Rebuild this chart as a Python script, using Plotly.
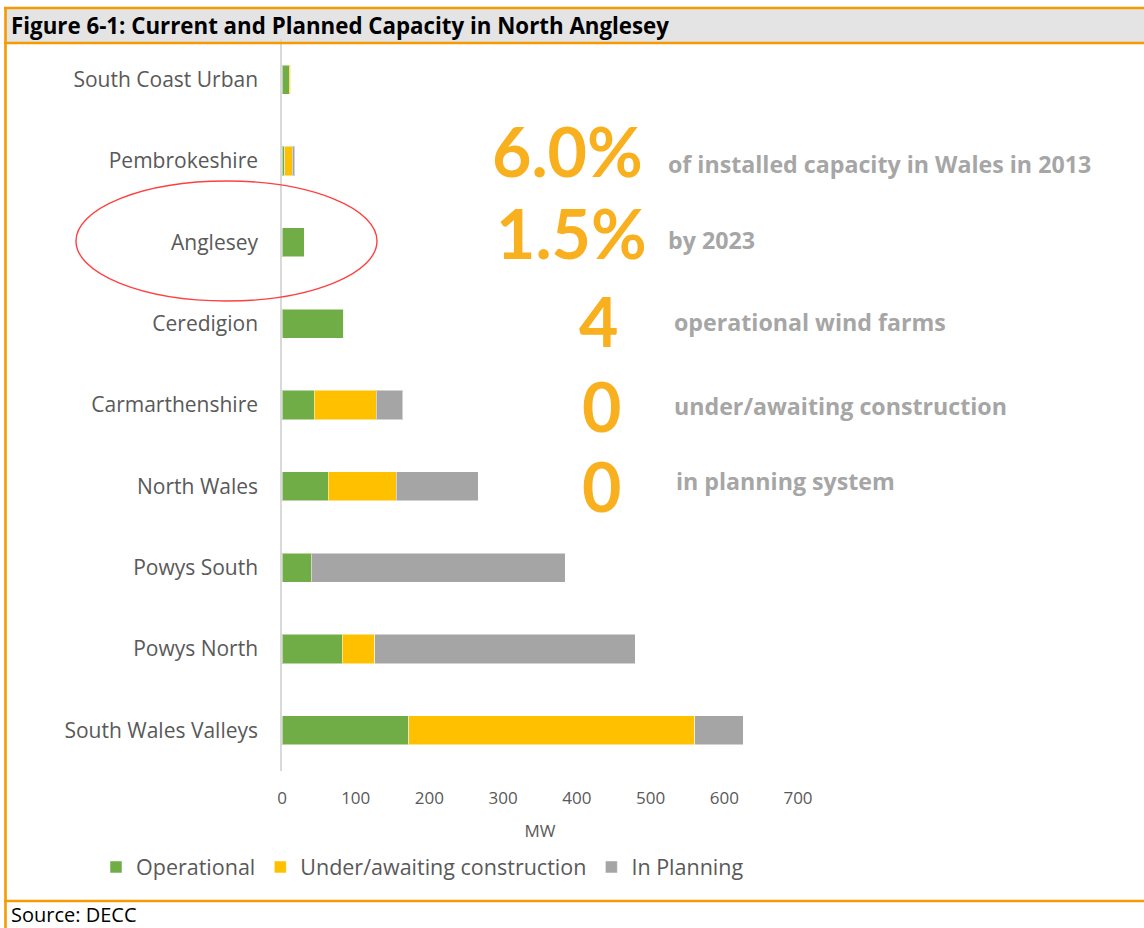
import plotly.graph_objects as go

# ---- data (MW), top-to-bottom order as shown ----
categories = ["South Coast Urban", "Pembrokeshire", "Anglesey", "Ceredigion",
              "Carmarthenshire", "North Wales", "Powys South", "Powys North",
              "South Wales Valleys"]
operational = [10, 4, 30, 84, 44, 63, 40, 82, 172]
under_construction = [2, 10, 0, 0, 84, 92, 0, 44, 388]
in_planning = [0, 3, 0, 0, 36, 111, 344, 353, 66]
x_ticks = [0, 100, 200, 300, 400, 500, 600, 700]

W, H = 1144, 928
L, R, T, B = 282, 798, 39, 771  # plot area pixel box


def px(x):
    return (x - L) / (R - L)


def py(y):
    return (B - y) / (B - T)


GREEN, YELLOW, GREY = "#70AD47", "#FFC000", "#A5A5A5"
ORANGE = "#F59A00"
BIG = "#F9B01F"
SOFT = "#A6A6A6"
TXT = "#595959"
FONT = "'Open Sans', sans-serif"
BIGFONT = "Lato, 'Open Sans', sans-serif"

fig = go.Figure()
for name, vals, col in [("Operational", operational, GREEN),
                        ("Under/awaiting construction", under_construction, YELLOW),
                        ("In Planning", in_planning, GREY)]:
    fig.add_trace(go.Bar(
        y=categories, x=vals, name=name, orientation="h",
        marker=dict(color=col, line=dict(color="rgba(255,255,255,0.5)", width=1)),
    ))

fig.update_layout(
    width=W, height=H,
    margin=dict(l=L, r=W - R, t=T, b=H - B, autoexpand=False),
    barmode="stack", bargap=0.643,
    paper_bgcolor="white", plot_bgcolor="white",
    font=dict(family=FONT, color=TXT),
    showlegend=True,
    legend=dict(orientation="h", x=px(96), xanchor="left", y=py(867), yanchor="middle",
                font=dict(size=21.5, color=TXT), traceorder="normal",
                bgcolor="rgba(0,0,0,0)"),
    xaxis=dict(range=[0, 700], tickvals=x_ticks, showgrid=False, zeroline=False,
               showline=False, ticks="", tickfont=dict(size=17, color=TXT),
               ticklabelstandoff=15,
               title=dict(text="MW", font=dict(size=17, color=TXT), standoff=17)),
    yaxis=dict(autorange=False, range=[len(categories) - 0.5, -0.5], showgrid=False,
               zeroline=False, showline=True, linecolor="#D9D9D9", linewidth=1.5,
               ticks="", tickfont=dict(size=21, color=TXT), ticklabelstandoff=18),
)

shapes = []
# header band
shapes.append(dict(type="rect", xref="paper", yref="paper", x0=px(5), x1=px(1150),
                   y0=py(43), y1=py(8), fillcolor="#E4E4E4", line=dict(width=0), layer="below"))
# frame lines
for y in (8, 43, 901):
    shapes.append(dict(type="line", xref="paper", yref="paper", x0=px(4), x1=px(1150),
                       y0=py(y), y1=py(y), line=dict(color=ORANGE, width=2.6)))
shapes.append(dict(type="line", xref="paper", yref="paper", x0=px(5.5), x1=px(5.5),
                   y0=py(7), y1=py(935), line=dict(color=ORANGE, width=2.6)))
# red ellipse
shapes.append(dict(type="circle", xref="paper", yref="paper", x0=px(76), x1=px(377),
                   y0=py(301), y1=py(181), line=dict(color="#FF4040", width=1.4)))
fig.update_layout(shapes=shapes)

ann = []
ann.append(dict(text="<b>Figure 6-1: Current and Planned Capacity in North Anglesey</b>",
                xref="paper", yref="paper", x=px(9), y=py(26), xanchor="left", yanchor="middle",
                showarrow=False, font=dict(size=22.3, color="black", family=FONT)))
ann.append(dict(text="Source: DECC", xref="paper", yref="paper", x=px(9), y=py(930),
                xanchor="left", yanchor="bottom", showarrow=False,
                font=dict(size=20, color="black", family=FONT)))

big = [("6.0%", 567, 150), ("1.5%", 571, 232), ("4", 598, 320), ("0", 601, 405), ("0", 601, 485)]
for t, x, y in big:
    ann.append(dict(text="<b>%s</b>" % t, xref="paper", yref="paper", x=px(x), y=py(y),
                    xanchor="center", yanchor="middle", showarrow=False,
                    font=dict(size=68, color=BIG, family=BIGFONT)))

small = [("of installed capacity in Wales in 2013", 666, 164),
         ("by 2023", 666, 240),
         ("operational wind farms", 672, 322),
         ("under/awaiting construction", 672, 406),
         ("in planning system", 674, 481)]
for t, x, y in small:
    ann.append(dict(text="<b>%s</b>" % t, xref="paper", yref="paper", x=px(x), y=py(y),
                    xanchor="left", yanchor="middle", showarrow=False,
                    font=dict(size=23.2, color=SOFT, family=FONT)))
fig.update_layout(annotations=ann)

fig.write_html("out.html", config={"displayModeBar": False},
               post_script="document.body.style.margin='0px';")
